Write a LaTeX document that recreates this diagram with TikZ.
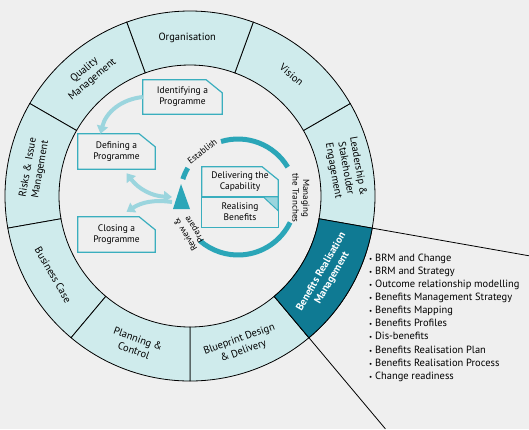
\documentclass[tikz,border=0pt]{standalone}
\usepackage{fontspec}
\setmainfont{PT Sans}
\usetikzlibrary{arrows.meta}
\definecolor{paper}{HTML}{EFEFEF}
\definecolor{ringfill}{HTML}{CFEBEC}
\definecolor{brmteal}{HTML}{0F7A93}
\definecolor{cycleteal}{HTML}{2BA6B8}
\definecolor{arrowteal}{HTML}{9BD5DE}
\definecolor{boxline}{HTML}{3AAEBE}

\begin{document}
\begin{tikzpicture}[x=1bp,y=1bp,>={Triangle[width=11bp,length=8bp]},
  ringtext/.style={align=center,font=\fontsize{10.5}{12.5}\selectfont},
  boxtext/.style={align=center,font=\fontsize{9.5}{11}\selectfont,inner sep=0pt},
  cycletext/.style={align=center,font=\fontsize{9}{10.5}\selectfont,inner sep=0pt},
  flow/.style={arrowteal,line width=4bp},
  ]
% page, origin at the centre of the wheel
\fill[paper] (-190,-233) rectangle (339,196);
\useasboundingbox (-190,-233) rectangle (339,196);
\coordinate (c) at (0,0);

% ring of themes
\foreach \a in {270,310,...,590} {
  \filldraw[fill=ringfill,draw=black,line width=0.8bp] (\a:185) arc[start angle=\a,end angle=\a+40,radius=185]
    -- (\a+40:131) arc[start angle=\a+40,end angle=\a,radius=131] -- cycle;
}
\filldraw[fill=brmteal,draw=black,line width=0.8bp] (310:185) arc[start angle=310,end angle=350,radius=185]
  -- (350:131) arc[start angle=350,end angle=310,radius=131] -- cycle;

\node[ringtext] (org) at (91:158) {Organisation};
\node[ringtext,rotate=-40] (vis) at (50:158) {Vision};
\node[ringtext,rotate=-80] (lead) at (10:158) {Leadership \&\\Stakeholder\\Engagement};
\node[ringtext,rotate=60,text=white,font=\fontsize{10.5}{12.5}\selectfont\bfseries] (brm) at (330:158) {Benefits Realisation\\Management};
\node[ringtext,rotate=20] (blue) at (289:158) {Blueprint Design\\\& Delivery};
\node[ringtext,rotate=-20] (plan) at (250:158) {Planning \&\\Control};
\node[ringtext,rotate=-60] (bcase) at (210:158) {Business Case};
\node[ringtext,rotate=80] (risk) at (170:158) {Risks \& Issue\\Management};
\node[ringtext,rotate=40] (qual) at (130:158) {Quality\\Management};

% lines out to the list
\coordinate (brmA) at (350:185);
\coordinate (brmB) at (310:185);
\coordinate (lineA) at (350:344);
\coordinate (lineB) at (310:304);
\draw[line width=0.8bp] (brmA) -- (lineA);
\draw[line width=0.8bp] (brmB) -- (lineB);

\node[anchor=north west,align=left,inner sep=0pt,font=\fontsize{10.5}{13.1}\selectfont] (brmlist) at (179,-58) {%
  {\scriptsize\textbullet}~BRM and Change\\
  {\scriptsize\textbullet}~BRM and Strategy\\
  {\scriptsize\textbullet}~Outcome relationship modelling\\
  {\scriptsize\textbullet}~Benefits Management Strategy\\
  {\scriptsize\textbullet}~Benefits Mapping\\
  {\scriptsize\textbullet}~Benefits Profiles\\
  {\scriptsize\textbullet}~Dis-benefits\\
  {\scriptsize\textbullet}~Benefits Realisation Plan\\
  {\scriptsize\textbullet}~Benefits Realisation Process\\
  {\scriptsize\textbullet}~Change readiness};

% programme boxes
\node[boxtext,minimum width=79bp,minimum height=34bp] (ident) at (-7.5,99) {Identifying a\\Programme};
\node[boxtext,minimum width=77bp,minimum height=35bp] (define) at (-73.5,44.5) {Defining a\\Programme};
\node[boxtext,minimum width=77bp,minimum height=35bp] (close) at (-73.5,-38.5) {Closing a\\Programme};
\node[boxtext,minimum width=76bp,minimum height=30bp] (deliver) at (50,14) {Delivering the\\Capability};
\node[boxtext,minimum width=76bp,minimum height=30bp] (realise) at (50,-16) {Realising\\Benefits};

\foreach \b in {ident,define,close,deliver}
  \draw[boxline,line width=1.2bp] (\b.south west) -- (\b.north west) -- ([xshift=-16bp]\b.north east)
    -- ([yshift=-13bp]\b.north east) -- (\b.south east) -- cycle;
\filldraw[boxline,fill=arrowteal,line width=1bp] (realise.north east) -- ([xshift=-15bp]realise.north east)
  -- ([yshift=-14bp]realise.north east) -- cycle;
\draw[boxline,line width=1.2bp] (realise.south west) rectangle (realise.north east);

% tranche cycle
\coordinate (cyc) at (48,-1);
\draw[cycleteal,line width=5bp] ([shift={(107:58)}]cyc) arc[start angle=107,end angle=31,radius=58];
\draw[cycleteal,line width=5bp] ([shift={(-26:58)}]cyc) arc[start angle=-26,end angle=-131,radius=58];
\draw[cycleteal,line width=5bp] ([shift={(150:58)}]cyc) arc[start angle=150,end angle=162,radius=58];
\node[cycletext,rotate=38] (est) at ([shift={(128:58)}]cyc) {Establish};
\node[cycletext,rotate=-90] (tranche) at ([shift={(-1:63)}]cyc) {Managing\\the Tranches};
\node[cycletext,rotate=122] (review) at ([shift={(216:59)}]cyc) {Review \&\\Prepare};

% review point
\coordinate (tri) at (-9,-1);
\fill[cycleteal] ([yshift=13bp]tri) -- ([shift={(-8bp,-12bp)}]tri) -- ([shift={(9bp,-12bp)}]tri) -- cycle;

% flows
\draw[flow,->] (ident.west) to[bend right=35] ([xshift=-16bp]define.north);
\draw[flow,<->] ([shift={(10bp,-4bp)}]define.south) to[bend right=25] ([xshift=-9bp]tri);
\draw[flow,->] ([shift={(-9bp,-5bp)}]tri) to[bend right=20] ([shift={(10bp,5bp)}]close.north);
\end{tikzpicture}
\end{document}
